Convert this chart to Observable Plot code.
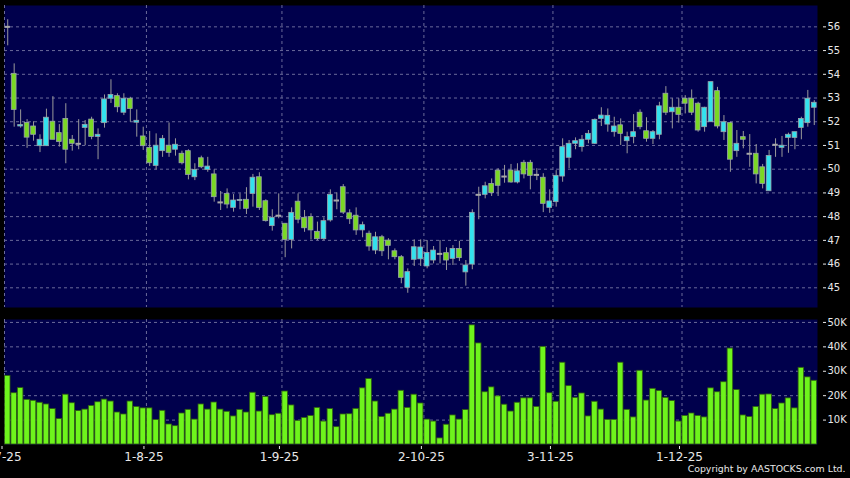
<!DOCTYPE html>
<html><head><meta charset="utf-8">
<script src="https://cdn.jsdelivr.net/npm/d3@7"></script>
<script src="https://cdn.jsdelivr.net/npm/@observablehq/plot@0.6"></script>
<style>
html,body{margin:0;padding:0;background:#000;}
#chart{width:850px;height:478px;background:#000;overflow:hidden;}
#chart svg{display:block;}
</style></head><body><div id="chart"></div>
<script>
const open = [56.00,54.02,51.80,51.95,51.80,50.97,50.97,52.00,51.52,52.12,
51.24,51.07,51.74,52.09,51.36,51.94,52.97,53.08,52.38,52.97,
51.96,51.38,50.90,50.14,50.76,50.99,50.82,50.65,50.76,49.66,
50.46,49.97,49.78,48.60,48.96,48.37,48.66,48.71,48.96,49.66,
48.65,47.60,48.04,47.70,47.02,48.63,47.95,47.98,47.36,47.05,
47.84,48.68,49.24,48.14,48.04,47.42,47.28,46.57,47.13,46.99,
46.54,46.29,45.00,46.18,46.20,45.90,46.15,46.43,46.46,46.22,
46.64,45.65,45.98,48.92,48.92,49.38,49.94,49.69,49.94,49.44,
50.27,50.27,49.76,49.64,48.37,48.61,49.69,50.48,51.07,50.93,
51.24,51.07,52.12,51.88,51.56,51.85,51.18,51.35,52.38,51.60,
51.28,51.45,53.18,52.40,52.59,52.97,52.97,52.76,51.77,51.98,
53.29,51.56,51.94,50.76,51.35,50.65,50.65,50.08,49.07,51.03,
50.90,51.32,51.32,51.74,51.94,52.59];
const close = [56.00,52.50,51.86,51.33,51.45,51.24,52.17,51.24,51.15,50.82,
51.07,51.07,51.87,51.36,51.45,52.94,53.13,52.61,52.97,52.54,
52.04,50.97,50.25,50.99,51.28,50.69,51.03,50.25,49.76,49.97,
50.08,50.11,48.82,48.60,48.51,48.68,48.70,48.33,49.64,48.37,
47.81,47.95,48.04,47.02,48.16,47.87,47.51,47.42,47.05,47.81,
48.92,48.68,48.17,47.89,47.42,47.64,46.74,47.13,46.54,46.77,
46.29,45.42,45.66,46.71,46.70,46.47,46.57,46.43,46.15,46.64,
46.25,45.94,48.16,48.92,49.28,48.99,49.30,49.69,49.44,49.91,
49.78,49.72,49.76,48.54,48.64,49.72,50.93,51.07,51.18,51.24,
51.49,52.08,52.26,52.25,51.80,51.49,51.35,51.56,51.77,51.28,
51.56,52.65,52.38,52.59,52.29,52.76,52.38,51.63,52.59,53.67,
51.80,51.98,50.40,51.07,51.24,50.65,49.78,49.38,50.56,51.03,
50.99,51.45,51.56,52.12,52.97,52.80];
const high = [56.30,54.44,52.50,52.09,52.00,51.45,52.53,53.06,51.88,52.76,
51.42,52.09,52.05,52.19,51.70,53.13,53.77,53.18,53.18,53.03,
52.50,51.77,51.59,51.49,51.42,51.95,51.28,50.76,50.82,50.23,
50.55,50.50,49.97,49.06,49.17,48.93,48.96,49.22,49.78,49.85,
48.71,48.29,48.96,47.70,48.37,48.96,48.26,48.12,47.77,47.95,
49.13,49.00,49.35,48.29,48.37,47.77,47.39,47.34,47.21,47.07,
46.64,46.36,45.80,47.02,47.02,46.99,46.74,46.99,46.69,46.78,
46.96,46.15,48.29,49.24,49.45,49.59,50.02,50.16,50.20,50.23,
50.37,50.37,50.02,49.81,49.13,49.94,51.28,51.21,51.32,51.42,
51.63,52.12,52.59,52.54,52.19,52.12,51.56,52.30,52.50,52.17,
51.63,52.82,53.48,52.97,52.97,53.10,53.34,52.82,52.61,53.67,
53.45,52.26,51.98,51.63,51.59,51.46,51.04,50.20,50.79,51.28,
51.38,51.52,51.56,52.19,53.32,52.89];
const low = [55.20,51.77,51.73,50.88,51.18,50.70,50.97,51.24,50.93,50.23,
50.76,50.82,50.99,51.24,50.40,51.73,52.77,52.38,52.26,51.98,
51.35,50.79,50.11,49.97,50.50,50.50,50.55,50.18,49.55,49.52,
50.02,49.87,48.61,48.26,48.33,48.19,48.29,48.09,48.40,48.26,
47.77,47.39,47.91,46.27,46.64,47.70,47.34,47.02,46.99,46.99,
47.77,48.29,48.09,47.67,47.21,47.11,46.54,46.40,46.32,46.18,
46.18,45.17,44.77,45.90,45.90,45.80,46.01,46.01,45.73,45.94,
46.11,45.07,45.76,47.87,48.75,48.85,48.85,49.41,49.41,49.38,
49.59,49.13,49.52,48.17,48.14,48.40,49.45,50.02,50.82,50.72,
51.07,51.04,51.80,51.56,51.35,51.00,50.65,51.07,51.66,51.14,
51.04,51.24,52.26,51.70,51.94,52.33,52.26,51.56,51.56,51.98,
51.70,51.21,49.87,50.50,50.86,50.08,49.38,49.17,49.07,50.50,
50.50,50.67,50.82,51.24,51.77,51.84];
// volume in thousands of shares
const volume = [28.1,21.0,23.1,18.3,17.9,17.1,16.4,14.5,10.4,20.4,
16.9,13.7,14.3,15.8,17.3,18.4,17.6,13.1,12.3,17.6,
15.4,14.8,14.8,10.0,13.8,8.2,7.5,12.7,14.2,10.2,
16.4,14.3,17.2,14.3,13.4,11.5,14.2,13.1,21.2,13.5,
19.5,12.0,12.6,21.7,16.0,9.7,10.9,11.7,15.0,9.4,
14.5,7.1,12.3,12.4,14.6,23.0,26.8,17.6,11.3,12.6,
14.3,22.0,15.0,20.4,16.8,10.2,9.4,2.5,8.1,11.9,
10.2,14.1,48.8,41.4,21.4,23.4,19.7,16.3,13.5,17.1,
18.9,18.9,15.4,40.0,21.0,17.5,33.5,23.9,19.1,20.9,
11.5,17.5,14.3,10.1,10.1,33.5,14.2,11.1,30.2,18.0,
22.8,21.9,19.1,17.8,9.4,11.7,12.7,11.7,11.1,23.0,
21.4,25.5,39.3,22.3,11.9,11.3,15.4,20.4,20.5,14.5,
16.8,18.9,14.8,31.4,27.5,26.1];
const monthStarts = [-0.5, 21.5, 42.5, 64.5, 84.5, 104.5];
const monthLabels = ["2-7-25", "1-8-25", "1-9-25", "2-10-25", "3-11-25", "1-12-25"];
const priceTicks = [45, 46, 47, 48, 49, 50, 51, 52, 53, 54, 55, 56];
const volumeTicks = [10, 20, 30, 40, 50];

const NAVY = "#00004c", GRID = "#6a6a9a", CYAN = "#33e2ee", GREEN = "#7ad824", VGREEN = "#6ef41c";
const candles = open.map((o, i) => ({i, open: o, high: high[i], low: low[i], close: close[i], volume: volume[i]}));
const up = candles.filter(d => d.close > d.open);
const down = candles.filter(d => d.close < d.open);
const flat = candles.filter(d => d.close === d.open);
const xDomain = [-0.5, candles.length - 0.5];
const style = {background: "#000", color: "#e8e8e8", fontFamily: "'DejaVu Sans', sans-serif", fontSize: "10px", overflow: "hidden"};
const gridOpts = {stroke: GRID, strokeOpacity: 1, strokeDasharray: "3,3"};

const price = Plot.plot({
  width: 850, height: 312,
  marginLeft: 4, marginRight: 33, marginTop: 5, marginBottom: 5,
  style,
  x: {domain: xDomain, axis: null},
  y: {domain: [44.17, 56.9], label: null},
  marks: [
    Plot.frame({fill: NAVY, stroke: "none"}),
    Plot.gridX(monthStarts, gridOpts),
    Plot.gridY(priceTicks, gridOpts),
    Plot.ruleX(candles, {x: "i", y1: "low", y2: "high", stroke: "#9a9a9a", strokeWidth: 1}),
    Plot.rect(up, {x1: d => d.i - 0.37, x2: d => d.i + 0.37, y1: "open", y2: "close", fill: CYAN, stroke: "#9aa4aa", strokeWidth: 0.8}),
    Plot.rect(down, {x1: d => d.i - 0.37, x2: d => d.i + 0.37, y1: "open", y2: "close", fill: GREEN, stroke: "#9aa4aa", strokeWidth: 0.8}),
    Plot.ruleY(flat, {y: "close", x1: d => d.i - 0.42, x2: d => d.i + 0.42, stroke: "#a8a8a8", strokeWidth: 2}),
    Plot.axisY(priceTicks, {anchor: "right", tickSize: 3, tickPadding: 2, dx: 5, label: null})
  ]
});

const vol = Plot.plot({
  width: 850, height: 166,
  marginLeft: 4, marginRight: 33, marginTop: 7, marginBottom: 34,
  style,
  x: {domain: xDomain, label: null},
  y: {domain: [0, 51.2], label: null},
  marks: [
    Plot.frame({fill: NAVY, stroke: "none"}),
    Plot.gridX(monthStarts, gridOpts),
    Plot.gridY(volumeTicks, gridOpts),
    Plot.rect(candles, {x1: d => d.i - 0.43, x2: d => d.i + 0.43, y1: 0, y2: "volume", fill: VGREEN, stroke: "#2f5c12", strokeWidth: 0.8}),
    Plot.axisY(volumeTicks, {anchor: "right", tickSize: 3, tickPadding: 2, dx: 5, label: null, tickFormat: d => d + "K"}),
    Plot.axisX(monthStarts, {anchor: "bottom", tickSize: 3, tickPadding: 3, dy: 2, dx: -2.5, label: null, fontSize: 12,
      tickFormat: d => monthLabels[monthStarts.indexOf(d)]}),
    Plot.text(["Copyright by AASTOCKS.com Ltd."], {text: d => d, frameAnchor: "bottom-right", dx: 28, dy: 27, textAnchor: "end", fontSize: 9.4, fill: "#e8e8e8"})
  ]
});

const root = document.getElementById("chart");
root.appendChild(price);
root.appendChild(vol);
</script></body></html>
